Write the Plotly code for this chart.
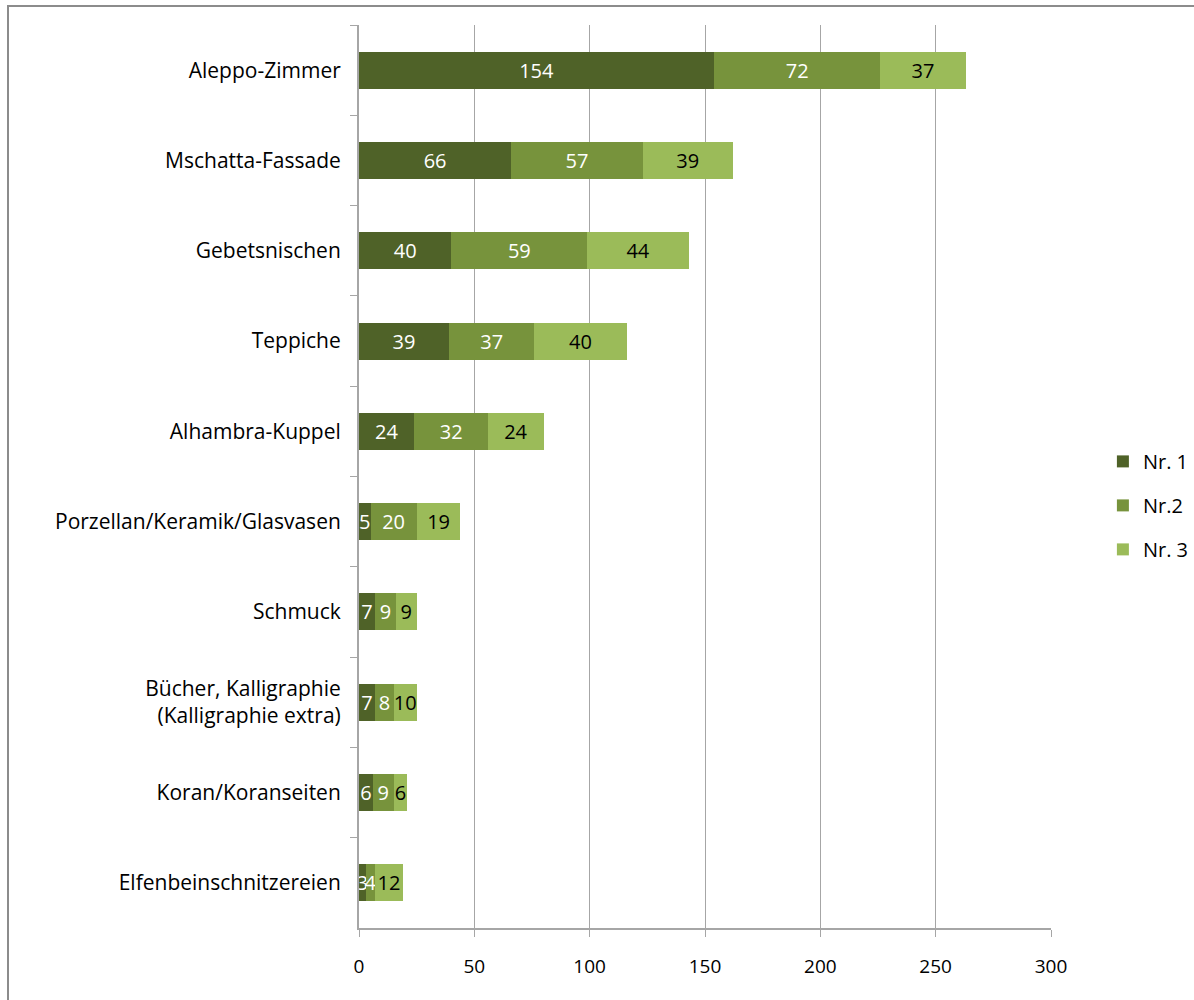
import plotly.graph_objects as go

# Categories, top to bottom
categories = [
    "Aleppo-Zimmer",
    "Mschatta-Fassade",
    "Gebetsnischen",
    "Teppiche",
    "Alhambra-Kuppel",
    "Porzellan/Keramik/Glasvasen",
    "Schmuck",
    "Bücher, Kalligraphie<br>(Kalligraphie extra)",
    "Koran/Koranseiten",
    "Elfenbeinschnitzereien",
]

series_names = ["Nr. 1", "Nr.2", "Nr. 3"]
nr1 = [154, 66, 40, 39, 24, 5, 7, 7, 6, 3]
nr2 = [72, 57, 59, 37, 32, 20, 9, 8, 9, 4]
nr3 = [37, 39, 44, 40, 24, 19, 9, 10, 6, 12]

x_ticks = [0, 50, 100, 150, 200, 250, 300]

colors = ["#4F6228", "#77933C", "#9BBB59"]
text_colors = ["white", "white", "black"]
FONT = "'Open Sans', Lato, sans-serif"

fig = go.Figure()
for name, vals, col, tcol in zip(series_names, [nr1, nr2, nr3], colors, text_colors):
    fig.add_trace(go.Bar(
        y=categories,
        x=vals,
        name=name,
        orientation="h",
        marker=dict(color=col, line=dict(width=0)),
        text=[str(v) for v in vals],
        textposition="inside",
        insidetextanchor="middle",
        textangle=0,
        textfont=dict(family=FONT, size=20, color=tcol),
        legendgroup=name,
        hoverinfo="skip",
    ))

fig.update_layout(
    width=1194,
    height=1000,
    barmode="stack",
    bargap=0.59,
    plot_bgcolor="white",
    paper_bgcolor="white",
    margin=dict(l=359, r=143, t=25, b=72, autoexpand=False),
    font=dict(family=FONT, size=20, color="black"),
    uniformtext=dict(minsize=20, mode="show"),
    showlegend=True,
    legend=dict(
        x=1.075, y=0.468, xanchor="left", yanchor="middle",
        traceorder="grouped",
        tracegroupgap=15,
        font=dict(family=FONT, size=20, color="black"),
        bgcolor="rgba(0,0,0,0)",
    ),
    xaxis=dict(
        range=[0, 300],
        tickvals=x_ticks,
        ticktext=[str(t) for t in x_ticks],
        showgrid=True,
        gridcolor="#A6A6A6",
        gridwidth=1,
        zeroline=False,
        showline=True,
        linecolor="#A6A6A6",
        linewidth=2,
        ticks="outside",
        ticklen=7,
        tickcolor="#A6A6A6",
        tickfont=dict(family=FONT, size=19),
        ticklabelstandoff=13,
    ),
    yaxis=dict(
        categoryorder="array",
        categoryarray=categories,
        autorange="reversed",
        showgrid=False,
        zeroline=False,
        showline=True,
        linecolor="#A6A6A6",
        linewidth=2,
        ticks="outside",
        tickson="boundaries",
        ticklen=7,
        tickcolor="#A6A6A6",
        tickfont=dict(family=FONT, size=21),
        ticklabelstandoff=12,
    ),
    shapes=[
        dict(
            type="rect", xref="paper", yref="paper",
            x0=(8 - 359) / 692, x1=1.4, y0=-0.2, y1=(928 - 6) / 903,
            line=dict(color="#8C8C8C", width=2),
            fillcolor="rgba(0,0,0,0)",
            layer="below",
        )
    ],
)

fig.write_html("out.html")
